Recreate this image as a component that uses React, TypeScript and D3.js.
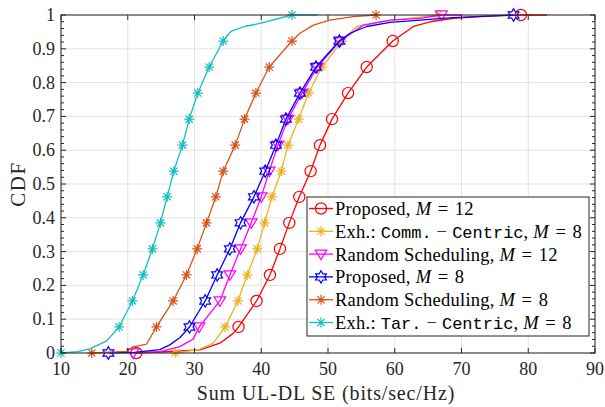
import { useEffect } from "react";
import * as d3 from "d3";

// CDF levels where the markers sit
const levels = [0, 0.077, 0.154, 0.231, 0.308, 0.385, 0.462, 0.538, 0.615, 0.692, 0.769, 0.846, 0.923, 1];

// marker x positions (Sum UL-DL SE) at each level
const redMarks = [21.3, 36.6, 39.3, 41.3, 42.8, 44.2, 45.7, 47.4, 48.8, 50.6, 53.0, 55.8, 59.7, 78.9];
const yellowMarks = [27.1, 34.6, 36.5, 37.9, 39.4, 40.5, 41.6, 43.0, 44.0, 45.6, 47.1, 49.1, 52.1, 66.5];
const magentaMarks = [20.8, 30.7, 33.8, 35.3, 36.9, 38.5, 40.0, 41.2, 42.5, 44.0, 46.1, 48.4, 51.8, 67.0];
const blueMarks = [17.1, 29.25, 31.6, 33.4, 35.3, 36.9, 38.9, 40.6, 42.2, 43.7, 45.8, 48.2, 51.7, 77.8];
const orangeMarks = [14.6, 24.3, 26.8, 28.8, 30.4, 31.8, 33.2, 34.3, 36.1, 37.5, 39.2, 41.2, 44.6, 57.2];
const cyanMarks = [10, 18.7, 20.7, 22.3, 23.7, 24.9, 25.9, 26.9, 28.2, 29.2, 30.5, 32.2, 34.3, 44.6];

// extra line points between markers: [x, cdf]
const redExtra: [number, number][] = [[25, 0.003], [30.8, 0.009], [33.8, 0.029], [35.8, 0.058], [62.8, 0.966], [65.3, 0.98], [68.8, 0.99], [72.8, 0.995], [82.8, 1]];
const yellowExtra: [number, number][] = [[30.8, 0.011], [32.8, 0.029], [54.3, 0.966], [58, 0.98], [62, 0.99]];
const magentaExtra: [number, number][] = [[24.8, 0.004], [27.8, 0.019], [29.8, 0.041], [55.3, 0.97], [59.3, 0.985], [63.8, 0.99], [70, 1]];
const blueExtra: [number, number][] = [[21, 0.002], [24.8, 0.01], [26.3, 0.024], [27.8, 0.045], [53.3, 0.946], [55.8, 0.966], [59.3, 0.978], [63.8, 0.985], [68.7, 0.992]];
const orangeExtra: [number, number][] = [[19.8, 0.005], [20.8, 0.018], [22.8, 0.026], [45.8, 0.946], [47.8, 0.97], [50.3, 0.985], [53.8, 0.995]];
const cyanExtra: [number, number][] = [[12.5, 0.004], [14.3, 0.012], [16.8, 0.035], [34.8, 0.937], [35.5, 0.952], [37.5, 0.966], [39.8, 0.975], [48.5, 1]];

const xTicks = [10, 20, 30, 40, 50, 60, 70, 80, 90];
const yTicks = [0, 0.1, 0.2, 0.3, 0.4, 0.5, 0.6, 0.7, 0.8, 0.9, 1];

type Series = {
    marks: number[];
    extra: [number, number][];
    color: string;
    marker: string;
    label: [string, string, string]; // prefix, tt part, M value
};

const series: Series[] = [
    { marks: redMarks, extra: redExtra, color: "#ff0000", marker: "circle", label: ["Proposed, ", "", "12"] },
    { marks: yellowMarks, extra: yellowExtra, color: "#edb120", marker: "star", label: ["Exh.: ", "Comm.", "8"] },
    { marks: magentaMarks, extra: magentaExtra, color: "#ff00ff", marker: "tri", label: ["Random Scheduling, ", "", "12"] },
    { marks: blueMarks, extra: blueExtra, color: "#0000ff", marker: "hex", label: ["Proposed, ", "", "8"] },
    { marks: orangeMarks, extra: orangeExtra, color: "#d95319", marker: "star", label: ["Random Scheduling, ", "", "8"] },
    { marks: cyanMarks, extra: cyanExtra, color: "#17bebf", marker: "star", label: ["Exh.: ", "Tar.", "8"] },
];

const serif = "Liberation Serif, DejaVu Serif, serif";
const mono = "Liberation Mono, DejaVu Sans Mono, monospace";

function Marker({ type, x, y, color }: { type: string; x: number; y: number; color: string }) {
    const sw = 1.2;
    if (type === "circle") {
        return <circle cx={x} cy={y} r={5.6} fill="none" stroke={color} strokeWidth={sw} />;
    }
    if (type === "tri") {
        const s = 5.8;
        const p = `${x - s},${y - s * 0.7} ${x + s},${y - s * 0.7} ${x},${y + s * 0.95}`;
        return <polygon points={p} fill="none" stroke={color} strokeWidth={sw} />;
    }
    if (type === "hex") {
        const R = 6.2;
        const r = R / Math.sqrt(3);
        const pts: string[] = [];
        for (let i = 0; i < 12; i++) {
            const a = -Math.PI / 2 + (i * Math.PI) / 6;
            const rr = i % 2 === 0 ? R : r;
            pts.push(`${x + rr * Math.cos(a)},${y + rr * Math.sin(a)}`);
        }
        return <polygon points={pts.join(" ")} fill="none" stroke={color} strokeWidth={sw} />;
    }
    const a = 5;
    const b = a * 0.72;
    return (
        <path
            d={`M${x - a},${y}H${x + a}M${x},${y - a}V${y + a}M${x - b},${y - b}L${x + b},${y + b}M${x - b},${y + b}L${x + b},${y - b}`}
            stroke={color}
            strokeWidth={sw}
            fill="none"
        />
    );
}

export default function App() {
    useEffect(() => {
        document.body.style.margin = "0";
    }, []);

    const width = 605;
    const height = 407;
    const left = 61;
    const right = 595;
    const top = 15;
    const bottom = 353;

    const x = d3.scaleLinear().domain([10, 90]).range([left, right]);
    const y = d3.scaleLinear().domain([0, 1]).range([bottom, top]);

    const line = d3
        .line<[number, number]>()
        .x((d) => x(d[0]))
        .y((d) => y(d[1]));

    const minorY = d3.range(0, 1.0001, 0.02).filter((v) => Math.abs(v * 10 - Math.round(v * 10)) > 1e-6);
    const axisColor = "#262626";

    const legX = 307;
    const legY = 197;
    const legW = 282;
    const legH = 139;
    const nb = "\u00a0";

    return (
        <svg width={width} height={height} style={{ display: "block", background: "#fff" }}>
            <rect x={0} y={0} width={width} height={height} fill="#fff" />
            {/* grid */}
            <g stroke="#e3e3e3" strokeWidth={1}>
                {xTicks.map((t) => (
                    <line key={`gx${t}`} x1={x(t)} x2={x(t)} y1={top} y2={bottom} />
                ))}
                {yTicks.map((t) => (
                    <line key={`gy${t}`} x1={left} x2={right} y1={y(t)} y2={y(t)} />
                ))}
            </g>

            {/* curves */}
            <defs>
                <clipPath id="plotclip">
                    <rect x={left - 8} y={top - 8} width={right - left + 16} height={bottom - top + 16} />
                </clipPath>
            </defs>
            <g clipPath="url(#plotclip)">
                {series.map((s, i) => {
                    const pts: [number, number][] = s.marks
                        .map((m, k) => [m, levels[k]] as [number, number])
                        .concat(s.extra)
                        .sort((a, b) => a[1] - b[1] || a[0] - b[0]);
                    return (
                        <g key={i}>
                            <path d={line(pts) ?? ""} fill="none" stroke={s.color} strokeWidth={1.3} strokeLinejoin="round" />
                            {s.marks.map((m, k) => (
                                <Marker key={k} type={s.marker} x={x(m)} y={y(levels[k])} color={s.color} />
                            ))}
                        </g>
                    );
                })}
            </g>

            {/* axes box */}
            <rect x={left} y={top} width={right - left} height={bottom - top} fill="none" stroke={axisColor} strokeWidth={1} />
            <g stroke={axisColor} strokeWidth={1}>
                {xTicks.map((t) => (
                    <g key={`tx${t}`}>
                        <line x1={x(t)} x2={x(t)} y1={bottom} y2={bottom - 5} />
                        <line x1={x(t)} x2={x(t)} y1={top} y2={top + 5} />
                    </g>
                ))}
                {yTicks.map((t) => (
                    <g key={`ty${t}`}>
                        <line x1={left} x2={left + 5} y1={y(t)} y2={y(t)} />
                        <line x1={right} x2={right - 5} y1={y(t)} y2={y(t)} />
                    </g>
                ))}
                {minorY.map((t) => (
                    <g key={`my${t}`}>
                        <line x1={left} x2={left + 3} y1={y(t)} y2={y(t)} />
                        <line x1={right} x2={right - 3} y1={y(t)} y2={y(t)} />
                    </g>
                ))}
            </g>

            {/* tick labels */}
            <g style={{ fontFamily: serif, fontSize: 18 }} fill="#262626">
                {xTicks.map((t) => (
                    <text key={`lx${t}`} x={x(t)} y={375} textAnchor="middle">
                        {t}
                    </text>
                ))}
                {yTicks.map((t) => (
                    <text key={`ly${t}`} x={55} y={y(t) + 6} textAnchor="end">
                        {t === 0 || t === 1 ? String(t) : t.toFixed(1)}
                    </text>
                ))}
            </g>

            {/* axis labels */}
            <text x={326} y={400} textAnchor="middle" style={{ fontFamily: serif, fontSize: 20, letterSpacing: 0.85 }} fill="#262626">
                Sum UL-DL SE (bits/sec/Hz)
            </text>
            <text transform="translate(25,184) rotate(-90)" textAnchor="middle" style={{ fontFamily: serif, fontSize: 21, letterSpacing: 1.5 }} fill="#262626">
                CDF
            </text>

            {/* legend */}
            <rect x={legX} y={legY} width={legW} height={legH} fill="#fff" stroke={axisColor} strokeWidth={1} />
            {series.map((s, i) => {
                const cy = 208.5 + i * 22.8;
                return (
                    <g key={`leg${i}`}>
                        <line x1={309} x2={333} y1={cy} y2={cy} stroke={s.color} strokeWidth={1.3} />
                        <Marker type={s.marker} x={321} y={cy} color={s.color} />
                        <text x={335} y={cy + 6.5} style={{ fontFamily: serif, fontSize: 18.5, letterSpacing: 0.25, whiteSpace: "pre" }} fill="#000">
                            {s.label[0]}
                            {s.label[1] && (
                                <>
                                    <tspan style={{ fontFamily: mono, fontSize: 17, letterSpacing: 0 }}>{s.label[1]}</tspan>
                                    <tspan>{`${nb}\u2212${nb}`}</tspan>
                                    <tspan style={{ fontFamily: mono, fontSize: 17, letterSpacing: 0 }}>Centric</tspan>
                                    <tspan>{`,${nb}`}</tspan>
                                </>
                            )}
                            <tspan fontStyle="italic">M</tspan>
                            <tspan dx={1.5}>{`${nb}=${nb}`}</tspan>
                            <tspan dx={1.5}>{s.label[2]}</tspan>
                        </text>
                    </g>
                );
            })}
        </svg>
    );
}
